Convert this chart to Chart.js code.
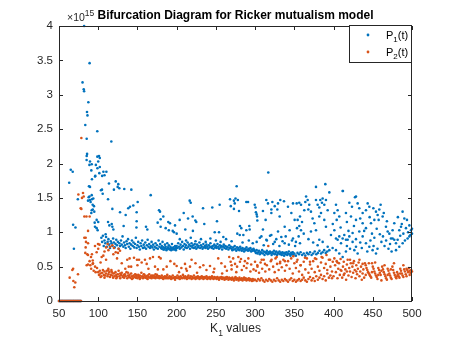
<!DOCTYPE html>
<html>
<head>
<meta charset="utf-8">
<script src="https://cdn.jsdelivr.net/npm/chart.js@4/dist/chart.umd.min.js"></script>
<style>
  html, body { margin: 0; padding: 0; background: #fff; }
  canvas { display: block; }
</style>
</head>
<body>
<canvas id="bif" width="455" height="341"></canvas>
<script>
// K1 values where both populations die out (y = 0)
const extinctK = [50,51,52,53,54,55,56,57,58,59,60,61,62,63,64,65,66,67,68,69,70,71,72,73,74,75,76,77,78];

// P1(t) samples, [K1, value in units of 1e15]
const p1Early = [
  [63,1.72],[65,1.91],[67.5,1.88],[68,1.11],[71,1.07],[69,0.76],[74,1.48],
  [80,3.18],[81.5,3.08],[82,3.05],[82,4.0],[89,3.46],[87.4,2.89],[85.7,2.75],[86.3,2.70],[83.5,2.56],
  [98.8,2.47],[85.3,2.36],[85.8,2.14],[85.3,2.11],[85.2,2.05],[98.9,2.10],[101,2.11],[97,1.98],[99,1.93],
  [91.2,1.90],[96.3,1.82],[92,1.77],[89.5,2.03],[88.8,1.98],[91.7,1.99],[100,2.03],[101.4,1.86],[95.9,1.81],
  [89.5,1.66],[88.2,1.67],[88.8,1.52],[91.7,1.54],[93.7,1.49],[90.3,1.44],[87.8,1.51],[89.5,1.47],[87,1.46],
  [92,1.48],[94.6,1.38],[92.9,1.40],[93,1.33],[91.7,1.32],[95,1.30],[91.2,1.28],[98,1.18],[100,1.15],
  [95.5,1.14],[95.9,1.08],[98,1.06],[99.3,1.03]
];
const p1Low = [
  [102,2.08],[102,1.95],[105,1.82],[106.6,1.88],[110.4,1.88],[108,1.83],[113.7,1.71],[104.8,1.62],[103.5,1.61],
  [105.7,1.56],[112.5,1.48],[116.7,2.32],[122.3,1.74],[125.6,1.70],[124.8,1.66],[126.9,1.64],[120,1.62],
  [133.2,1.63],[142.2,1.62],[166.9,1.54],[150.3,1.44],[144.7,1.39],[138.3,1.35],[127.8,1.29],[149,1.29],
  [140.5,1.37],[135,1.25],[177.5,1.32],[118,1.34],[179.6,1.19],[112.5,1.15],[114.2,1.10],[117.2,1.12],
  [118,1.08],[119.3,1.04],[132.4,1.09],[149,1.16],[148.7,1.07],[160.9,1.08],[162.6,1.04],[175.8,1.14],
  [179.6,1.08],[109.5,0.97],[186,1.06],[190,1.03],[196.6,1.00],[178.8,1.30],[183,1.23],[189.3,1.15],
  [191.5,1.13],[197.9,1.10],[195,1.02],
  [104,0.92],[105,0.86],[106,0.95],[107,0.80],[108,0.88],[109,0.84],[110,0.93],[111,0.79],[112,0.86],
  [113,0.90],[114,0.82],[115,0.77],[116,0.87],[117,0.84],[118,0.80],[119,0.91],[120,0.85],[121,0.78],
  [122,0.83],[123,0.89],[124,0.81],[125,0.86],[126,0.76],[127,0.84],[128,0.80],[129,0.88],[130,0.82],
  [131,0.94],[132,0.79],[133,0.85],[134,0.81],[135,0.77],[136,0.87],[137,0.83],[138,0.90],[139,0.79],
  [140,0.84],[141,0.76],[142,0.82],[143,0.88],[144,0.80],[145,0.85],[146,0.78],[147,0.83],[148,0.92],
  [149,0.77],[150,0.81],[151,0.86],[152,0.79],[153,0.75],[154,0.84],[155,0.80],[156,0.88],[157,0.77],
  [158,0.82],[159,0.78],[160,0.85],[161,0.76],[162,0.81],[163,0.89],[164,0.79],[165,0.83],[166,0.77],
  [167,0.80],[168,0.86],[169,0.78],[170,0.82],[171,0.75],[172,0.79],[173,0.84],[174,0.77],[175,0.81],
  [176,0.76],[177,0.88],[178,0.79],[179,0.83],[180,0.77],[181,0.80],[182,0.86],[183,0.78],[184,0.75],
  [185,0.82],[186,0.79],[187,0.76],[188,0.84],[189,0.78],[190,0.81],[191,0.76],[192,0.79],[193,0.77],
  [194,0.83],[195,0.75],[196,0.78],[197,0.76],[198,0.80],[199,0.77],
  [181,0.76],[183,0.75],[185,0.77],[187,0.74],[189,0.76],[191,0.75],[193,0.74],[195,0.77],[197,0.75],[199,0.74]
];
const p1Mid = [
  [203.8,1.18],[209,1.28],[214.5,1.20],[216.6,1.46],[217.9,1.43],[220.4,1.23],[223.8,1.17],[225,1.15],
  [211,1.04],[220.7,1.02],[233.6,1.35],[235.2,1.12],[245.4,1.36],[248.5,1.00],[251.4,1.16],[254,1.00],
  [254.8,1.40],[268,1.48],[269,1.38],[273,1.46],[273,1.34],[274,1.42],[275,1.49],[276.5,1.67],[278,1.47],
  [279.5,1.31],[277.3,0.98],[280.7,1.09],[280.4,0.96],[282.4,1.06],[288.8,1.03],[288.8,1.44],[291,1.44],
  [293.1,1.04],[292.6,1.09],[285,0.96],[259.5,0.93],[200,0.98],
  [204,0.90],[212,0.88],[218,0.92],[224,0.87],[231,0.90],[237,0.86],[243,0.91],[250,0.88],[256,0.86],
  [263,0.90],[270,0.87],[284,0.85],[292,0.88],[297,0.84],
  [200,0.80],[201,0.77],[202,0.84],[203,0.79],[204,0.76],[205,0.82],[206,0.78],[207,0.86],[208,0.80],
  [209,0.75],[210,0.83],[211,0.78],[212,0.81],[213,0.77],[214,0.85],[215,0.79],[216,0.82],[217,0.76],
  [218,0.80],[219,0.84],[220,0.78],[221,0.81],[222,0.77],[223,0.83],[224,0.79],[225,0.76],[226,0.82],
  [227,0.78],[228,0.80],[229,0.85],[230,0.77],[231,0.81],[232,0.79],[233,0.76],[234,0.83],[235,0.78],
  [236,0.80],[237,0.77],[238,0.82],[239,0.79],[240,0.76],[241,0.81],[242,0.78],[243,0.84],[244,0.79],
  [245,0.77],[246,0.80],[247,0.76],[248,0.82],[249,0.78],[250,0.80],[251,0.77],[252,0.83],[253,0.79],
  [254,0.76],[255,0.81],[256,0.78],[257,0.80],[258,0.75],[259,0.79],[260,0.82],[261,0.77],[262,0.80],
  [263,0.76],[264,0.79],[265,0.78],[266,0.75],[267,0.81],[268,0.77],[269,0.79],[270,0.76],[271,0.74],
  [272,0.78],[273,0.75],[274,0.80],[275,0.76],[276,0.73],[277,0.78],[278,0.75],[279,0.77],[280,0.74],
  [281,0.79],[282,0.76],[283,0.73],[284,0.77],[285,0.75],[286,0.72],[287,0.76],[288,0.74],[289,0.78],
  [290,0.75],[291,0.73],[292,0.76],[293,0.74],[294,0.77],[295,0.72],[296,0.75],[297,0.73],[298,0.76],[299,0.74]
];
const p1High = [
  [299.5,1.40],[300.5,1.36],[301,1.29],[302,1.26],[302.5,1.23],[302.8,1.17],
  [316.8,1.87],[314.3,1.47],[316.4,1.42],[322,1.44],[325,1.38],[320.7,1.33],[328.3,1.33],[329.2,1.42],
  [332.1,1.47],[336.8,1.45],[331.3,1.23],[320.7,1.28],[310,1.31],[313.4,1.18],[341.9,1.37],[346.2,1.28],
  [348.3,1.42],[350.4,1.18],[337.7,1.08],[344,1.03],[329.2,1.01],[333.4,0.93],[320.7,0.96],[325,0.86],
  [314.3,0.89],[308,0.94],[337.7,0.84],[348.3,0.91],[310,1.04],
  [302,0.86],[306,0.92],[311,0.81],[315,0.88],[319,0.95],[323,0.83],[327,0.90],[331,0.80],[335,0.87],
  [339,0.94],[343,0.82],[347,0.88],[351,0.80],
  [353,1.42],[356.3,1.43],[358.5,1.40],[364,1.44],[365,1.52],[367,1.47],[369,1.40],[367.8,1.33],[362.7,1.32],
  [371.2,1.30],[357.2,1.23],[354.2,1.18],[359.8,1.15],[356.3,1.09],[353.4,1.06],[358.5,1.03],[355.5,0.94],
  [352,0.86],[357.2,0.84],[373.3,1.20],[375.5,1.13],[377.6,1.03],[371.2,1.01],[381.8,1.23],[377.6,1.47],
  [383.1,1.47],[386.1,1.49],[390.3,1.47],[379.7,1.40],[385.2,1.43],[381.8,1.36],[388.2,1.40],[392.5,1.32],
  [389.5,1.70],[377.6,1.66],[394.6,1.58],[384,1.28],[388.2,1.18],[390.3,1.08],[381.8,0.89],[386.1,0.86],
  [379.7,0.81],[392.5,0.79],[394.6,0.74],[398.8,0.77],[396.7,0.96],[362,0.98],[368,0.90],[374,0.85],
  [300,0.72],[301,0.70],[302,0.74],[303,0.69],[304,0.71],[305,0.73],[306,0.68],[307,0.71],[308,0.70],
  [309,0.74],[310,0.69],[311,0.72],[312,0.67],[313,0.71],[314,0.70],[315,0.73],[316,0.68],[317,0.71],
  [318,0.69],[319,0.72],[320,0.70],[321,0.67],[322,0.71],[323,0.69],[324,0.73],[325,0.68],[326,0.70],
  [327,0.72],[328,0.67],[329,0.70],[330,0.69],[331,0.72],[332,0.68],[333,0.70],[334,0.67],[335,0.71],
  [336,0.69],[337,0.66],[338,0.70],[339,0.68],[340,0.71],[341,0.67],[342,0.69],[343,0.72],[344,0.68],
  [345,0.66],[346,0.70],[347,0.68],[348,0.71],[349,0.67],[350,0.69],[352,0.66],[354,0.70],[356,0.68],
  [358,0.71],[360,0.67],[362,0.69],[364,0.66],[366,0.70],[368,0.68],[370,0.71],[372,0.67],[374,0.69],
  [376,0.72],[378,0.68],[380,0.70],[382,0.73],[384,0.69],[386,0.71],[388,0.74],[390,0.70],[392,0.72]
];
const p1Top = [
  [401,1.03],[403.1,0.91],[405.2,0.89],[407.3,0.94],[409.5,0.84],[411.6,0.91],[413.7,0.96],[415.8,0.89],
  [418,0.89],[420.1,0.94],[424.3,0.86],[428.6,0.90],[403.1,0.74],[407.3,0.69],[411.6,0.64],[415.8,0.72],
  [412,1.60],[427.3,1.51],[420.1,1.43],[423.5,1.37],[430.7,1.42],[432.8,1.35],[437.1,1.28],[441.3,1.32],
  [443.5,1.42],[445.6,1.37],[450.7,1.35],[454.1,1.30],[458.3,1.33],[456.2,1.25],[452,1.18],[447.7,1.13],
  [457.5,1.18],[462.6,1.23],[437.1,1.13],[441.3,1.06],[428.6,1.18],[422.2,1.23],[415.8,1.28],[407.3,1.23],
  [405.2,1.32],[401,1.28],[403.1,1.40],[432.8,1.01],[437.1,0.94],[441.3,0.84],[445.6,0.79],[449.8,0.74],
  [454.1,0.69],[428.6,0.79],[426.5,0.74],[430.7,0.69],[424.3,0.99],[466.8,1.08],[469,1.01],[471.1,0.98],
  [473.2,0.91],[475.3,0.91],[477.4,0.89],[479.6,0.84],[481.7,0.89],[483.8,1.03],[477.4,1.13],[475.3,1.03],
  [490.2,1.20],[493.6,1.18],[496.6,1.10],[498.7,1.03],[496.6,0.94],[500,0.98],[492.3,1.06],[488.1,0.84],
  [483.8,0.79],[479.6,0.74],[494.4,0.91],[411.6,1.60],[428.6,1.52],[399,1.12],[404,1.18],[409,1.07],
  [417,1.15],[419,1.02],[426,1.09],[434,1.20],[439,1.02],[446,1.22],[449,0.98],[452,0.92],[455,1.05],
  [459,0.97],[461,0.86],[463,0.94],[465,0.80],[467,0.88],[470,0.76],[472,0.83],[474,0.72],[485,0.95],
  [487,1.12],[489,0.98],[491,0.88],[495,1.00],[498,0.96],[500,1.05],[417,0.80],[421,0.76],[434,0.85],
  [436,0.77],[443,0.72],[447,0.88],[451,0.80],[456,0.76],[460,1.40],[464,1.28],[468,1.16],[482,1.22],
  [486,1.08],[488,1.30]
];

// P2(t) samples, [K1, value in units of 1e15]
const p2Early = [
  [63.6,0.34],[67,0.45],[68,0.47],[68.3,0.29],[69.5,0.20],[70.8,0.27],[74.2,0.39],
  [78.5,2.37],[80.6,1.57],[81.5,1.52],[79.3,1.50],[74.7,1.55],[78.5,1.34],[77.6,1.35],[82.3,1.23],[85,1.23],
  [89.1,1.23],[87,1.02],[84,0.92],[82.3,0.92],[84.4,0.86],[87,0.84],[84,0.78],[83.5,0.70],[86,0.68],
  [92,0.68],[90.8,0.64],[93,0.59],[93.3,0.55],[89.9,0.52],[87,0.53],[95.9,0.80],[99.7,0.83],[98,0.71],
  [94.2,0.44],[96.7,0.42],[85.3,0.52],[87,0.67],[91,0.47],[89,0.58],[96,0.50],[98.5,0.48],[93,0.54]
];
const p2Low = [
  [100,0.76],[101.6,0.82],[104.4,0.64],[106.5,0.66],[103,0.56],[112,0.83],[115,0.79],[118,0.81],[120,0.77],
  [119.3,0.68],[122.3,0.71],[125.2,0.70],[127.8,0.73],[112.9,0.47],[116.8,0.45],[134.5,0.47],[138.9,0.50],
  [152,0.60],[159.6,0.60],[169.8,0.64],[177.5,0.64],[145.6,0.63],[149.4,0.60],[140,0.62],[137,0.60],
  [155.4,0.56],[161.8,0.54],[166,0.62],[172.4,0.50],[179.6,0.62],[187.3,0.50],[197,0.54],[108,0.72],
  [110,0.60],[124,0.62],[130,0.55],[142,0.50],[150,0.52],[164,0.47],[183,0.46],[192,0.58],[176,0.46],
  [110,0.78],[113,0.74],[126,0.76],
  [100,0.42],[101,0.38],[102,0.44],[103,0.40],[104,0.36],[105,0.41],[106,0.45],[107,0.38],[108,0.43],
  [109,0.37],[110,0.40],[111,0.44],[112,0.36],[113,0.39],[114,0.42],[115,0.35],[116,0.38],[117,0.43],
  [118,0.37],[119,0.34],[120,0.40],[121,0.36],[122,0.42],[123,0.38],[124,0.35],[125,0.39],[126,0.44],
  [127,0.36],[128,0.33],[129,0.38],[130,0.41],[131,0.35],[132,0.37],[133,0.34],[134,0.39],[135,0.36],
  [136,0.42],[137,0.33],[138,0.37],[139,0.35],[140,0.38],[141,0.34],[142,0.40],[143,0.36],[144,0.33],
  [145,0.37],[146,0.35],[147,0.39],[148,0.34],[149,0.36],[150,0.33],[151,0.38],[152,0.35],[153,0.37],
  [154,0.34],[155,0.41],[156,0.36],[157,0.33],[158,0.35],[159,0.38],[160,0.34],[161,0.36],[162,0.33],
  [163,0.37],[164,0.35],[165,0.39],[166,0.34],[167,0.36],[168,0.33],[169,0.35],[170,0.37],[171,0.34],
  [172,0.36],[173,0.33],[174,0.35],[175,0.38],[176,0.34],[177,0.36],[178,0.33],[179,0.35],[180,0.34],
  [181,0.37],[182,0.33],[183,0.35],[184,0.34],[185,0.36],[186,0.33],[187,0.35],[188,0.38],[189,0.34],
  [190,0.33],[191,0.36],[192,0.34],[193,0.35],[194,0.33],[195,0.37],[196,0.34],[197,0.33],[198,0.35],[199,0.34],
  [103,0.35],[108,0.34],[113,0.45],[118,0.41],[123,0.33],[128,0.40],[133,0.38],[138,0.41],[143,0.32],
  [148,0.38],[153,0.32],[158,0.39],[163,0.32],[168,0.37],[173,0.39],[178,0.36],[183,0.32],[188,0.33],
  [193,0.32],[198,0.31]
];
const p2Mid = [
  [203,0.42],[213,0.44],[226,0.41],[238,0.45],[247,0.42],[258,0.40],[264,0.44],[270,0.46],[276,0.42],
  [283,0.45],[289,0.48],[294,0.43],[298,0.46],[200,0.51],[210.6,0.54],[212,0.47],[217,0.50],[219,0.60],
  [229.7,0.49],[234,0.52],[242.5,0.51],[253,0.62],[261.6,0.50],[267,0.64],[268.8,0.57],[272,0.62],
  [274.4,0.54],[278.6,0.64],[280.7,0.57],[285.8,0.51],[291.4,0.62],[299.9,0.57],[206,0.48],[224,0.55],
  [248,0.47],[257,0.55],[277,0.50],[287,0.58],[295,0.53],[282,0.61],[270,0.52],[290,0.55],
  [200,0.34],[201,0.37],[202,0.33],[203,0.35],[204,0.32],[205,0.36],[206,0.34],[207,0.33],[208,0.38],
  [209,0.35],[210,0.33],[211,0.36],[212,0.34],[213,0.32],[214,0.35],[215,0.37],[216,0.33],[217,0.34],
  [218,0.36],[219,0.32],[220,0.35],[221,0.33],[222,0.37],[223,0.34],[224,0.32],[225,0.35],[226,0.33],
  [227,0.36],[228,0.34],[229,0.32],[230,0.35],[231,0.33],[232,0.36],[233,0.34],[234,0.32],[235,0.35],
  [236,0.33],[237,0.34],[238,0.36],[239,0.32],[240,0.34],[241,0.33],[242,0.35],[243,0.32],[244,0.34],
  [245,0.36],[246,0.33],[247,0.32],[248,0.35],[249,0.33],[250,0.34],[251,0.32],[252,0.35],[253,0.33],
  [254,0.31],[255,0.34],[256,0.33],[257,0.35],[258,0.32],[259,0.34],[260,0.33],[261,0.31],[262,0.34],
  [263,0.32],[264,0.35],[265,0.33],[266,0.31],[267,0.34],[268,0.32],[269,0.33],[270,0.31],[271,0.34],
  [272,0.32],[273,0.30],[274,0.33],[275,0.35],[276,0.31],[277,0.33],[278,0.32],[279,0.30],[280,0.34],
  [281,0.32],[282,0.31],[283,0.33],[284,0.30],[285,0.32],[286,0.34],[287,0.31],[288,0.33],[289,0.30],
  [290,0.32],[291,0.31],[292,0.33],[293,0.30],[294,0.32],[295,0.31],[296,0.29],[297,0.32],[298,0.30],[299,0.31]
];
const p2High = [
  [300,0.31],[302,0.29],[304,0.32],[306,0.30],[308,0.33],[310,0.30],[312,0.28],[314,0.31],[316,0.29],
  [318,0.32],[320,0.30],[322,0.28],[324,0.31],[326,0.29],[328,0.33],[330,0.30],[332,0.28],[334,0.31],
  [336,0.29],[338,0.32],[340,0.30],[342,0.28],[344,0.31],[346,0.33],[348,0.29],[350,0.31],[352,0.28],
  [354,0.30],[356,0.32],[358,0.29],[360,0.31],[362,0.34],[364,0.30],[366,0.28],[368,0.32],[370,0.35],
  [372,0.30],[374,0.33],[376,0.29],[378,0.36],[380,0.31],[382,0.34],[384,0.38],[386,0.32],[388,0.36],
  [390,0.30],[392,0.40],[394,0.34],[396,0.37],[398,0.33],
  [301,0.44],[303,0.50],[305,0.41],[307,0.56],[309,0.47],[311,0.60],[313,0.43],[315,0.52],[316.8,0.80],
  [318,0.46],[320,0.58],[323,0.50],[325,0.42],[326,0.62],[328,0.54],[330,0.45],[332,0.57],[334,0.49],
  [336,0.60],[338,0.44],[340,0.52],[342,0.58],[344,0.47],[346,0.62],[348,0.40],[350,0.55],[352,0.48],
  [354,0.60],[356,0.43],[358,0.52],[360,0.38],[362,0.57],[364,0.46],[366,0.62],[368,0.41],[370,0.53],
  [372,0.47],[374,0.58],[376,0.42],[378,0.61],[380,0.50],[382,0.44],[384,0.56],[386,0.63],[388,0.48],
  [390,0.54],[392,0.45],[394,0.60],[396,0.50],[398,0.43],[399,0.57],
  [302.8,0.52],[308.4,0.60],[312.6,0.54],[321,0.60],[327.5,0.64],[331.7,0.55],[338,0.58],[348.7,0.65],
  [353,0.57],[358,0.52],[363.6,0.63],[370,0.57],[376.3,0.62],[384.8,0.64],[391,0.67],[395.5,0.60]
];
const p2Top = [
  [400,0.36],[402,0.52],[403,0.42],[404,0.58],[405,0.33],[406,0.47],[407,0.55],[408,0.38],[409,0.61],
  [410,0.44],[411,0.34],[412,0.50],[413,0.57],[414,0.40],[415,0.46],[416,0.31],[417,0.53],[418,0.60],
  [419,0.37],[420,0.48],[421,0.43],[422,0.55],[423,0.35],[424,0.50],[425,0.41],[426,0.58],[427,0.45],
  [428,0.33],[429,0.52],[430,0.39],[431,0.47],[432,0.56],[433,0.36],[434,0.43],[435,0.50],[436,0.31],
  [437,0.40],[438,0.46],[439,0.34],[440,0.55],[441,0.52],[442,0.48],[443,0.45],[444,0.42],[445,0.40],
  [446,0.38],[447,0.36],[448,0.34],[449,0.55],[450,0.50],[451,0.47],[452,0.43],[453,0.40],[454,0.37],
  [455,0.35],[456,0.32],[457,0.48],[458,0.45],[459,0.41],[460,0.38],[461,0.30],[462,0.50],[463,0.46],
  [464,0.42],[465,0.39],[466,0.36],[467,0.33],[468,0.31],[469,0.47],[470,0.44],[471,0.40],[472,0.37],
  [473,0.34],[474,0.32],[475,0.50],[476,0.45],[477,0.41],[478,0.38],[479,0.35],[480,0.33],[481,0.42],
  [482,0.39],[483,0.36],[484,0.34],[485,0.47],[486,0.44],[487,0.40],[488,0.37],[489,0.35],[490,0.46],
  [491,0.43],[492,0.39],[493,0.36],[494,0.45],[495,0.42],[496,0.48],[497,0.44],[498,0.41],[499,0.45],[500,0.43],
  [401,0.62],[405,0.56],[409,0.45],[413,0.38],[417,0.43],[421,0.60],[425,0.55],[429,0.43],[433,0.60],
  [437,0.54],[441,0.38],[445,0.55],[449,0.42],[453,0.56],[457,0.38],[461,0.44],[465,0.52],[469,0.38],
  [473,0.46],[477,0.55],[481,0.36],[485,0.40],[489,0.52],[493,0.47],[497,0.38]
];

const xTicks = [50,100,150,200,250,300,350,400,450,500];
const yTicks = [0,0.5,1,1.5,2,2.5,3,3.5,4];

const blue = '#0072BD';
const orange = '#D95319';
const ink = '#262626';
const fontFam = '"Liberation Sans", Arial, Helvetica, sans-serif';

const toPts = arr => arr.map(p => ({ x: p[0], y: p[1] }));
const zeros = extinctK.map(k => ({ x: k, y: 0 }));

const p1Data = zeros.concat(toPts(p1Early), toPts(p1Low), toPts(p1Mid), toPts(p1High), toPts(p1Top));
const p2Data = zeros.concat(toPts(p2Early), toPts(p2Low), toPts(p2Mid), toPts(p2High), toPts(p2Top));

// axes box, inward ticks, title, labels and legend in MATLAB style
const matlabDecor = {
  id: 'matlabDecor',
  afterDraw(chart) {
    const { ctx, chartArea: a, scales } = chart;
    const xs = scales.x, ys = scales.y;
    ctx.save();
    ctx.strokeStyle = ink;
    ctx.lineWidth = 1;
    ctx.strokeRect(a.left + 0.5, a.top + 0.5, a.right - a.left - 1, a.bottom - a.top);
    ctx.beginPath();
    const tl = 4;
    xTicks.forEach(v => {
      const px = Math.round(xs.getPixelForValue(v)) + 0.5;
      ctx.moveTo(px, a.bottom); ctx.lineTo(px, a.bottom - tl);
      ctx.moveTo(px, a.top); ctx.lineTo(px, a.top + tl);
    });
    yTicks.forEach(v => {
      const py = Math.round(ys.getPixelForValue(v)) + 0.5;
      ctx.moveTo(a.left, py); ctx.lineTo(a.left + tl, py);
      ctx.moveTo(a.right, py); ctx.lineTo(a.right - tl, py);
    });
    ctx.stroke();

    ctx.fillStyle = '#000';
    ctx.textBaseline = 'alphabetic';
    // title
    ctx.font = 'bold 12px ' + fontFam;
    ctx.textAlign = 'center';
    ctx.fillText('Bifurcation Diagram for Ricker mutualism model', (a.left + a.right) / 2, 19);

    // exponent
    ctx.fillStyle = ink;
    ctx.textAlign = 'left';
    ctx.font = '10.5px ' + fontFam;
    ctx.fillText('\u00d710', 67, 21);
    const w = ctx.measureText('\u00d710').width;
    ctx.font = '8.5px ' + fontFam;
    ctx.fillText('15', 67 + w, 16);

    // x label with subscript
    const cx = (a.left + a.right) / 2;
    ctx.font = '12px ' + fontFam;
    const wk = ctx.measureText('K').width;
    const wv = ctx.measureText(' values').width;
    ctx.font = '8.5px ' + fontFam;
    const ws = ctx.measureText('1').width;
    const x0 = cx - (wk + ws + wv) / 2;
    ctx.font = '12px ' + fontFam;
    ctx.fillText('K', x0, 332);
    ctx.font = '8.5px ' + fontFam;
    ctx.fillText('1', x0 + wk, 336);
    ctx.font = '12px ' + fontFam;
    ctx.fillText(' values', x0 + wk + ws, 332);

    // legend
    const lx = 349, ly = 25, lw = 62, lh = 37;
    ctx.fillStyle = '#fff';
    ctx.fillRect(lx, ly, lw, lh);
    ctx.strokeStyle = ink;
    ctx.strokeRect(lx + 0.5, ly + 0.5, lw, lh);
    [[blue, 35], [orange, 52]].forEach(([c, y], i) => {
      ctx.fillStyle = c;
      ctx.beginPath();
      ctx.arc(368, y, 1.4, 0, Math.PI * 2);
      ctx.fill();
      ctx.fillStyle = '#000';
      ctx.font = '11px ' + fontFam;
      ctx.fillText('P', 386, y + 4);
      const wp = ctx.measureText('P').width;
      ctx.font = '8px ' + fontFam;
      ctx.fillText(String(i + 1), 386 + wp, y + 7);
      const wn = ctx.measureText(String(i + 1)).width;
      ctx.font = '11px ' + fontFam;
      ctx.fillText('(t)', 386 + wp + wn, y + 4);
    });
    ctx.restore();
  }
};

new Chart(document.getElementById('bif'), {
  type: 'scatter',
  data: {
    datasets: [
      { label: 'P1(t)', data: p1Data, backgroundColor: blue, pointRadius: 1.3, pointBorderWidth: 0, pointHoverRadius: 1.3, clip: false, order: 1 },
      { label: 'P2(t)', data: p2Data, backgroundColor: orange, pointRadius: 1.3, pointBorderWidth: 0, pointHoverRadius: 1.3, clip: false, order: 0 }
    ]
  },
  options: {
    responsive: false,
    animation: false,
    devicePixelRatio: 1,
    layout: { padding: { top: 26, right: 43, left: 0, bottom: 0 } },
    plugins: {
      legend: { display: false },
      title: { display: false },
      tooltip: { enabled: false }
    },
    scales: {
      x: {
        type: 'linear',
        min: 50,
        max: 500,
        afterFit: s => { s.height = 40; },
        grid: { display: false, drawTicks: false },
        border: { display: false },
        ticks: { stepSize: 50, autoSkip: false, maxRotation: 0, color: ink, padding: 6,
                 font: { family: fontFam, size: 11.5 }, callback: v => String(v) }
      },
      y: {
        type: 'linear',
        min: 0,
        max: 4,
        afterFit: s => { s.width = 59; },
        grid: { display: false, drawTicks: false },
        border: { display: false },
        ticks: { stepSize: 0.5, autoSkip: false, color: ink, padding: 6,
                 font: { family: fontFam, size: 11.5 }, callback: v => String(v) }
      }
    }
  },
  plugins: [matlabDecor]
});
</script>
</body>
</html>
